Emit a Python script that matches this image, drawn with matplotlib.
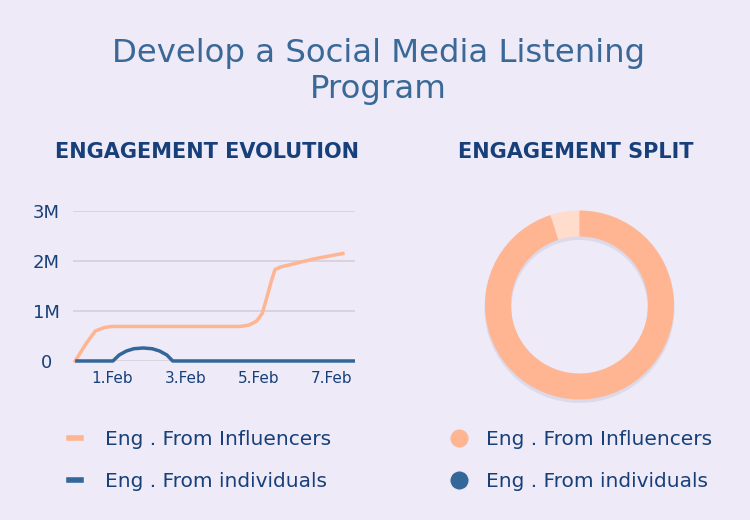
import matplotlib.pyplot as plt
from matplotlib.lines import Line2D

plt.rcParams['font.family'] = ['DejaVu Sans']

# engagement evolution (x in days since 31 Jan, y in engagements)
infl_days = [0, 0.3, 0.55, 0.8, 1.0, 2.0, 3.0, 4.5, 4.75, 4.95, 5.1, 5.2, 5.35, 5.45, 5.6, 6.0, 6.5, 7.3]
infl_vals = [0, 0.35e6, 0.6e6, 0.67e6, 0.69e6, 0.69e6, 0.69e6, 0.69e6, 0.72e6, 0.8e6, 0.95e6,
             1.2e6, 1.6e6, 1.83e6, 1.88e6, 1.95e6, 2.04e6, 2.15e6]
indiv_days = [0, 1.03, 1.2, 1.4, 1.6, 1.85, 2.1, 2.3, 2.5, 2.66, 7.63]
indiv_vals = [0, 0, 0.12e6, 0.2e6, 0.245e6, 0.26e6, 0.245e6, 0.2e6, 0.12e6, 0, 0]

xticks = [1, 3, 5, 7]
xtick_labels = ['1.Feb', '3.Feb', '5.Feb', '7.Feb']
yticks = [0, 1e6, 2e6, 3e6]
ytick_labels = ['0', '1M', '2M', '3M']

# engagement split
split_labels = ['Eng . From individuals', 'Eng . From Influencers']
split_vals = [5, 95]

bg = '#EEEAF7'
orange = '#FFB592'
orange_light = '#FFDCCB'
blue = '#336699'
navy = '#17407A'

fig = plt.figure(figsize=(7.5, 5.2), dpi=100, facecolor=bg)

fig.text(0.505, 0.862, 'Develop a Social Media Listening\nProgram', ha='center', va='center',
         fontsize=23.3, color='#3A6897', linespacing=1.2)
fig.text(0.276, 0.707, 'ENGAGEMENT EVOLUTION', ha='center', va='center', fontsize=15,
         fontweight='bold', color=navy)
fig.text(0.768, 0.707, 'ENGAGEMENT SPLIT', ha='center', va='center', fontsize=15,
         fontweight='bold', color=navy)

# line chart
ax = fig.add_axes([0.0973, 0.3058, 0.376, 0.2885])
ax.set_facecolor(bg)
ax.plot(infl_days, infl_vals, color=orange, lw=2.5, clip_on=False, solid_joinstyle='round')
ax.plot(indiv_days, indiv_vals, color=blue, lw=2.5, clip_on=False, solid_capstyle='butt')
ax.set_xlim(-0.06, 7.63)
ax.set_ylim(0, 3e6)
ax.set_yticks(yticks)
ax.set_yticklabels(ytick_labels, ha='center')
ax.set_xticks(xticks)
ax.set_xticklabels(xtick_labels)
ax.tick_params(axis='y', length=0, pad=19, labelsize=13, labelcolor=navy)
ax.tick_params(axis='x', length=0, pad=7, labelsize=11, labelcolor=navy)
ax.grid(axis='y', color='#D3D0DA', lw=1.2)
ax.set_axisbelow(True)
for s in ax.spines.values():
    s.set_visible(False)

# donut
ax2 = fig.add_axes([0.6393, 0.2212, 0.2667, 0.3846])
ax2.set_xlim(-1, 1)
ax2.set_ylim(-1, 1)
ax2.set_aspect('equal')
ax2.axis('off')
ax2.pie([1], radius=0.95, center=(0.0, -0.03), colors=['#BDBCD2'],
        wedgeprops=dict(width=0.27, linewidth=0, alpha=0.35))
ax2.pie(split_vals, radius=0.945, startangle=90, counterclock=True,
        colors=[orange_light, orange], wedgeprops=dict(width=0.26, linewidth=0))
ax2.set_xlim(-1, 1)
ax2.set_ylim(-1, 1)

# legends
line_handles = [Line2D([0], [0], color=orange, lw=4), Line2D([0], [0], color=blue, lw=4)]
fig.legend(line_handles, ['Eng . From Influencers', 'Eng . From individuals'],
           loc='upper left', bbox_to_anchor=(0.068, 0.207), frameon=False, fontsize=14.5,
           labelcolor=navy, handlelength=0.6, handletextpad=1.2, labelspacing=1.12)
dot_handles = [Line2D([0], [0], marker='o', color=bg, markerfacecolor=orange, markersize=14, lw=0),
               Line2D([0], [0], marker='o', color=bg, markerfacecolor=blue, markersize=14, lw=0)]
fig.legend(dot_handles, ['Eng . From Influencers', 'Eng . From individuals'],
           loc='upper left', bbox_to_anchor=(0.577, 0.207), frameon=False, fontsize=14.5,
           labelcolor=navy, handlelength=0.8, handletextpad=0.95, labelspacing=1.12)

fig.savefig('out.png', dpi=100, facecolor=bg)
